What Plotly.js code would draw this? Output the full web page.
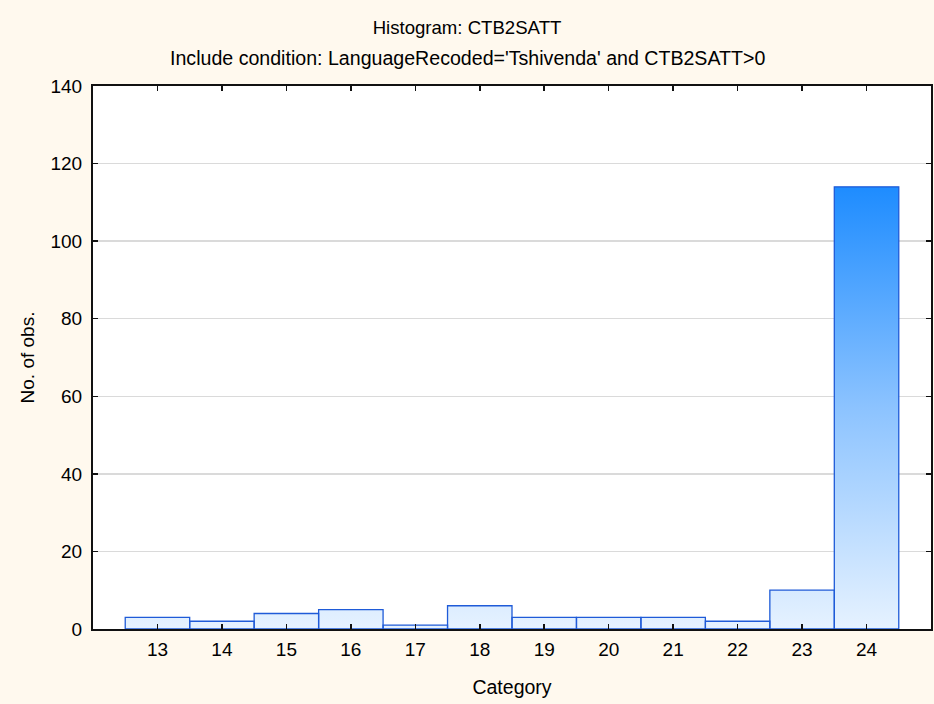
<!DOCTYPE html>
<html>
<head>
<meta charset="utf-8">
<script src="https://cdn.plot.ly/plotly-3.0.1.min.js"></script>
<style>html,body{margin:0;padding:0;background:#FFF9EE;}#chart{width:934px;height:704px;}</style>
</head>
<body>
<div id="chart"></div>
<script>
const categories = [13, 14, 15, 16, 17, 18, 19, 20, 21, 22, 23, 24];
const counts = [3, 2, 4, 5, 1, 6, 3, 3, 3, 2, 10, 114];
const yTicks = [0, 20, 40, 60, 80, 100, 120, 140];
const titleLine1 = 'Histogram: CTB2SATT';
const titleLine2 = "Include condition: LanguageRecoded='Tshivenda' and CTB2SATT>0";
const xTitle = 'Category';
const yTitle = 'No. of obs.';

// Build bar outlines (width 1 category) from the data
const px = [], py = [];
categories.forEach((c, i) => {
  const v = counts[i];
  px.push(c - 0.5, c - 0.5, c + 0.5, c + 0.5, c - 0.5, null);
  py.push(0, v, v, 0, 0, null);
});
const maxCount = Math.max(...counts);

const FONT = 'Liberation Sans, Arial, sans-serif';

const traces = [{
  type: 'scatter',
  x: px, y: py,
  mode: 'lines',
  fill: 'toself',
  connectgaps: false,
  line: {color: '#1F5BD8', width: 1.3},
  fillgradient: {
    type: 'vertical',
    start: 0,
    stop: maxCount,
    colorscale: [[0, '#E6F2FF'], [0.5, '#8CC3FF'], [1, '#1E8CFF']]
  },
  hoverinfo: 'skip',
  showlegend: false
}];

const layout = {
  width: 934, height: 704,
  paper_bgcolor: '#FFF9EE',
  plot_bgcolor: '#FFFFFF',
  margin: {l: 93, r: 3, t: 86, b: 75},
  font: {family: FONT, size: 19, color: '#000'},
  showlegend: false,
  title: {
    text: titleLine1,
    font: {family: FONT, size: 18.6, color: '#000'},
    x: 0.5, xanchor: 'center', xref: 'container',
    y: 1 - 27 / 704, yanchor: 'middle'
  },
  annotations: [{
    text: titleLine2, showarrow: false,
    xref: 'paper', yref: 'paper', x: (467 - 93) / 838, y: (629 - 58) / 543,
    xanchor: 'center', yanchor: 'middle',
    font: {family: FONT, size: 19.6, color: '#000'}
  }],
  xaxis: {
    range: [12, 25],
    tickvals: categories,
    ticktext: categories.map(String),
    ticks: 'inside', ticklen: 5, tickwidth: 1.5, tickcolor: '#111',
    showline: true, linecolor: '#111', linewidth: 2, mirror: 'ticks',
    showgrid: false, zeroline: false,
    ticklabelstandoff: 2,
    tickfont: {family: FONT, size: 19},
    title: {text: xTitle, font: {family: FONT, size: 19.5}, standoff: 22},
    automargin: false, fixedrange: true
  },
  yaxis: {
    range: [0, 140],
    tickvals: yTicks,
    ticks: 'inside', ticklen: 5, tickwidth: 1.5, tickcolor: '#111',
    showline: true, linecolor: '#111', linewidth: 2, mirror: 'ticks',
    showgrid: true, gridcolor: '#DADADA', gridwidth: 1.5,
    zeroline: false,
    ticklabelstandoff: 5,
    tickfont: {family: FONT, size: 19},
    title: {text: yTitle, font: {family: FONT, size: 19}, standoff: 11},
    automargin: false, fixedrange: true
  }
};

Plotly.newPlot('chart', traces, layout, {displayModeBar: false, staticPlot: true});
</script>
</body>
</html>
